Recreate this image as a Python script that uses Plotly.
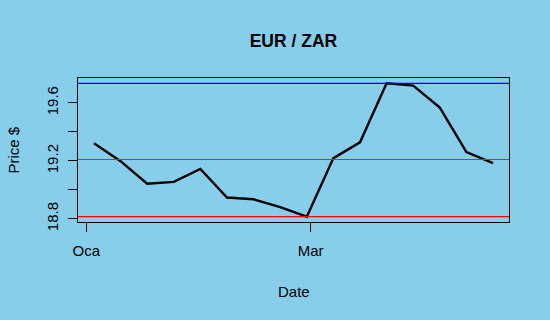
import plotly.graph_objects as go
import pandas as pd

# ---- data ----
dates = pd.date_range("2021-01-03", periods=16, freq="7D")
prices = [19.321, 19.198, 19.042, 19.055, 19.144, 18.947, 18.935, 18.881,
          18.815, 19.219, 19.328, 19.735, 19.719, 19.568, 19.261, 19.184]
x_tickvals = ["2021-01-01", "2021-03-01"]
x_ticktext = ["Oca", "Mar"]
y_tickvals = [18.8, 19.0, 19.2, 19.4, 19.6]
y_ticktext = ["18.8", "", "19.2", "", "19.6"]
title = "EUR / ZAR"
xlabel = "Date"
ylabel = "Price $"

# R-style 4% axis expansion
ymin, ymax = min(prices), max(prices)
ymean = sum(prices) / len(prices)
yr = ymax - ymin
yrange = [ymin - 0.04 * yr, ymax + 0.04 * yr]
xspan = dates[-1] - dates[0]
xrange = [dates[0] - 0.04 * xspan, dates[-1] + 0.04 * xspan]

BG = "#87CEEB"
FONT = "Liberation Sans, Arial, sans-serif"

fig = go.Figure()
fig.add_trace(go.Scatter(x=dates, y=prices, mode="lines",
                         line=dict(color="black", width=2.4),
                         showlegend=False, hoverinfo="skip"))

for val, col in [(ymax, "blue"), (ymin, "red"), (ymean, "#556B2F")]:
    fig.add_shape(type="line", xref="x domain", yref="y", x0=0, x1=1,
                  y0=val, y1=val, line=dict(color=col, width=1.2))

fig.update_layout(
    width=550, height=320,
    margin=dict(l=78, r=41, t=78, b=98),
    paper_bgcolor=BG, plot_bgcolor=BG,
    font=dict(family=FONT, size=15, color="black"),
    title=dict(text="<b>" + title + "</b>", x=0.5335, xanchor="center",
               y=1 - 40.7 / 320, yanchor="middle", yref="container",
               font=dict(size=17.5, family=FONT, color="black")),
    showlegend=False,
)
fig.update_xaxes(type="date", range=xrange, tickvals=x_tickvals, ticktext=x_ticktext,
                 ticks="outside", ticklen=9, tickwidth=1, tickcolor="black",
                 showgrid=False, zeroline=False, showline=True, mirror=True,
                 linecolor="black", linewidth=1.2, ticklabelstandoff=6)
fig.update_yaxes(range=yrange, tickvals=y_tickvals, ticktext=y_ticktext,
                 ticks="outside", ticklen=9, tickwidth=1, tickcolor="black",
                 tickangle=-90,
                 showgrid=False, zeroline=False, showline=True, mirror=True,
                 linecolor="black", linewidth=1.2, ticklabelstandoff=4)

fig.add_annotation(text=xlabel, xref="paper", yref="paper", x=0.5, y=(222 - 291) / 144,
                   xanchor="center", yanchor="middle", showarrow=False,
                   font=dict(size=15, family=FONT))
fig.add_annotation(text=ylabel, xref="paper", yref="paper", x=(12.5 - 78) / 431, y=0.5,
                   xanchor="center", yanchor="middle", textangle=-90, showarrow=False,
                   font=dict(size=15, family=FONT))

fig.write_html("out.html")
